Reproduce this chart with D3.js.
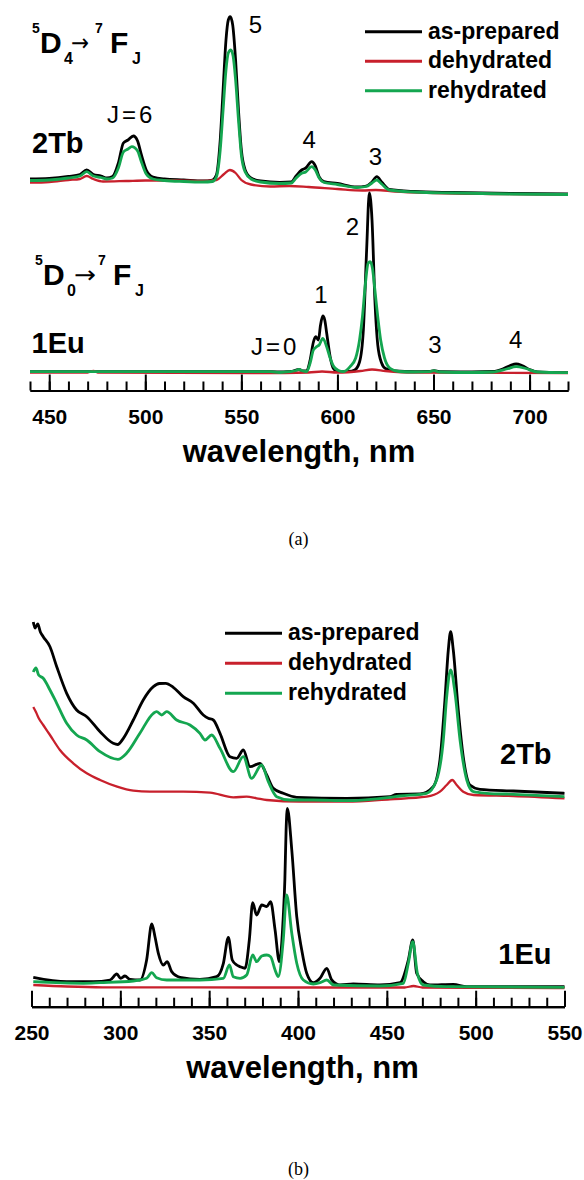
<!DOCTYPE html>
<html>
<head>
<meta charset="utf-8">
<script src="https://cdn.jsdelivr.net/npm/d3@7"></script>
<style>
  html, body { margin: 0; padding: 0; background: #fff; }
  svg { display: block; }
  text { font-family: "Liberation Sans", Arial, sans-serif; fill: #000; }
</style>
</head>
<body>
<svg id="chart" width="584" height="1180"></svg>
<script>
// ---- Series names and colours ----
const seriesNames = ["as-prepared", "dehydrated", "rehydrated"];
const seriesColors = ["#000000", "#c8202c", "#14a650"];

// ---- Axis ticks ----
const emTicksMajor = [450, 500, 550, 600, 650, 700];
const excTicksMajor = [250, 300, 350, 400, 450, 500, 550];

// Vertical offset (a.u.) used to stack the Tb spectra above the Eu spectra
const TB_OFFSET = 95;

// ---- (a) Emission spectra, [wavelength nm, intensity a.u.] ----
const emTbAsPrepared = [
  [440,10.75],[450,11.0],[460,12.0],[466,13.0],[469.5,15.25],[473,13.0],[477,12.25],[480,11.25],
  [483,12.0],[486,18.75],[488.6,28.75],[491,30.25],[493.8,32.25],[496,29.75],[498,22.75],[500.5,15.25],
  [504,11.75],[510,10.75],[520,10.25],[530,9.75],[535,10.25],[537,12.75],[539,30.25],[540.5,55.25],
  [542,80.25],[543.2,90.25],[544.2,91.9],[545.5,87.75],[547,70.25],[548.5,45.25],[550,25.25],[552,15.25],
  [555,11.25],[560,9.75],[570,9.0],[576,9.25],[578.5,12.25],[581.4,15.25],[583.5,16.25],[586.6,19.4],
  [588.5,17.25],[590.5,11.75],[593,9.4],[600,8.5],[610,6.75],[615,7.25],[618,9.25],[620.5,11.9],
  [623,9.25],[627,5.5],[640,4.5],[660,4.0],[690,3.5],[720,3.25]
];
const emTbDehydrated = [
  [440,8.9],[450,9.25],[460,10.25],[466,10.75],[469.5,12.25],[473,10.75],[478,9.5],[490,9.75],
  [500,10.0],[515,10.0],[530,9.75],[537,10.25],[541,13.25],[544,15.25],[547,13.75],[550,10.25],
  [555,8.0],[565,7.0],[575,7.25],[585,6.75],[600,5.75],[613,5.0],[620,5.25],[630,4.5],
  [650,3.75],[680,3.25],[720,3.0]
];
const emTbRehydrated = [
  [440,10.0],[450,10.25],[460,11.25],[466,12.25],[469.5,14.4],[473,12.25],[477,11.5],[480,10.75],
  [483,11.25],[486,16.25],[488.6,24.25],[491,25.75],[493,26.9],[496,24.75],[498,19.25],[500.5,13.25],
  [504,10.75],[510,10.0],[520,9.5],[530,9.25],[535,9.5],[537,11.75],[539,25.25],[540.5,45.25],
  [542,65.25],[543.2,73.75],[544.5,75.25],[545.7,72.25],[547,60.25],[548.5,40.25],[550,22.75],[552,14.25],
  [555,10.75],[560,9.25],[570,8.5],[576,8.75],[578.5,11.25],[581.4,13.6],[583.5,14.25],[586.6,16.9],
  [588.5,15.25],[590.5,11.25],[593,9.0],[600,8.0],[610,6.5],[615,7.0],[618,8.75],[620.5,10.25],
  [623,8.25],[627,5.25],[640,4.25],[660,3.75],[690,3.25],[720,3.0]
];
const emEuAsPrepared = [
  [440,9.4],[470,9.4],[520,9.4],[565,9.4],[572,9.25],[576,9.5],[578.5,10.25],[580,10.5],
  [582,9.75],[584,9.75],[585.8,15.25],[587.5,24.25],[588.7,26.9],[590.1,25.25],[591.2,32.75],[592.4,37.25],
  [593.4,35.25],[594.4,28.75],[596.2,16.9],[597.9,11.1],[600.5,9.4],[606,9.5],[609,10.25],[611.5,14.25],
  [613.5,30.25],[615.2,70.25],[616.6,98.75],[618,85.25],[619.5,45.25],[621,22.75],[623,13.75],[625,11.0],
  [630,9.75],[640,9.4],[648,9.5],[650.3,9.9],[653,9.4],[670,9.25],[681,9.5],[686,10.75],
  [690,12.5],[693,13.25],[696,12.5],[700,10.5],[704,9.25],[710,9.0],[720,8.9]
];
const emEuDehydrated = [
  [440,8.9],[470,9.0],[473,9.75],[476,8.9],[560,8.75],[585,9.0],[592,9.5],[600,9.0],
  [612,9.75],[618,10.5],[625,9.75],[640,8.9],[720,8.75]
];
const emEuRehydrated = [
  [440,9.4],[470,9.4],[520,9.4],[565,9.4],[570,9.0],[575,9.4],[578.5,10.0],[580,10.5],
  [582,9.75],[584,9.5],[585.8,13.75],[587.5,20.25],[589.2,21.9],[590.5,22.75],[592.4,26.1],[594.4,21.9],
  [596.2,16.25],[597.9,12.25],[600.5,10.0],[603,9.4],[606.6,11.9],[609.5,16.25],[611.5,25.25],[613,36.75],
  [614.5,52.75],[616,63.75],[617,64.4],[618.2,61.25],[619.5,50.25],[621,36.75],[622.5,25.25],[624.5,16.25],
  [627.4,11.1],[632,9.5],[640,9.25],[648,9.4],[650.3,9.9],[653,9.25],[670,9.0],[681,9.25],
  [688,10.75],[693,11.9],[698,11.0],[704,9.25],[720,8.9]
];

// ---- (b) Excitation spectra, [wavelength nm, intensity a.u.] ----
const excTbAsPrepared = [
  [251,97.35],[252,94.35],[253.5,96.35],[255,92.35],[256.6,90.0],[260.4,85.0],[264.2,75.0],[269.8,61.7],
  [275.4,53.35],[281.1,50.0],[288.6,42.5],[296,36.7],[298.5,36.1],[301.7,39.2],[307.3,48.35],[312.9,58.35],
  [318.6,65.0],[322,66.6],[325.5,66.7],[329.8,64.7],[335.4,60.0],[341.1,56.7],[346.7,50.85],[349.5,49.2],
  [352.3,48.35],[356.1,41.7],[361.7,30.0],[365.5,29.2],[369.2,33.35],[373,25.0],[378.6,26.7],[382.4,20.85],
  [386.1,14.2],[391.7,11.7],[399.3,9.7],[427.4,9.2],[451.8,10.0],[455.5,11.2],[468.7,11.35],[476.1,15.0],
  [479.9,28.35],[482.7,58.35],[484.6,83.35],[485.9,92.5],[487.4,83.35],[490.2,53.35],[493,30.0],[496.8,15.85],
  [502.4,13.7],[521.2,12.85],[550,11.7]
];
const excTbDehydrated = [
  [251,54.85],[252.5,52.35],[254,49.35],[256.6,45.85],[260.4,40.85],[266,33.35],[273.5,26.7],[281.1,21.7],
  [288.6,18.35],[298.2,15.0],[307.3,13.0],[316.7,12.5],[335.4,12.5],[350.5,12.0],[363.6,9.7],[371.1,10.0],
  [376.7,9.2],[382.4,8.35],[401,7.5],[427.4,7.5],[451.8,8.7],[472.4,10.0],[479.9,12.5],[483.7,15.85],
  [486.8,18.35],[489.3,15.85],[493,12.5],[498.7,10.85],[521.2,10.35],[550,9.2]
];
const excTbRehydrated = [
  [251,72.35],[252.5,74.35],[254,70.85],[256.6,69.2],[260.4,63.35],[264.2,56.7],[269.8,46.7],[275.4,40.85],
  [281.1,38.35],[288.6,32.5],[298.6,28.7],[303.5,31.7],[311,41.7],[318.6,51.7],[320.4,52.5],[323.3,50.85],
  [326.1,52.5],[331.7,48.35],[339.2,45.85],[344.8,41.7],[347.7,38.35],[351.4,40.85],[356.1,34.2],[363.6,22.5],
  [369.2,30.0],[373.9,19.2],[379.5,25.85],[383.3,17.5],[388,10.0],[395.5,8.35],[408.6,8.35],[427.4,8.0],
  [451.8,9.7],[457.4,10.35],[472.4,11.7],[478,18.35],[481.8,38.35],[483.7,60.0],[485.9,73.35],[488.4,61.7],
  [491.2,38.35],[495,18.35],[498.7,12.5],[506.2,11.7],[521.2,11.2],[550,10.0]
];
const excEuAsPrepared = [
  [251,14.7],[269.8,12.5],[284.8,12.5],[294.2,13.35],[298,16.35],[300.2,14.2],[302.6,15.35],[305.4,13.7],
  [311.1,13.35],[314.8,23.35],[317.7,41.35],[319.5,35.0],[321.4,26.7],[324.2,20.85],[326.4,22.5],[328.9,17.5],
  [333.6,14.7],[344.8,13.7],[354.2,15.0],[358,21.7],[360.8,34.7],[363,23.35],[365.5,20.85],[367.4,20.0],
  [370.2,19.2],[372.6,33.35],[374.5,52.0],[376.7,45.85],[379.6,50.85],[382.4,50.0],[384.6,52.5],[387.1,38.35],
  [389.5,22.5],[391.7,45.0],[392.6,63.35],[393.3,88.35],[394,99.2],[396.5,78.35],[399.3,45.0],[402.1,28.35],
  [404.9,16.7],[408.6,12.0],[412.4,14.2],[416.2,19.2],[419,13.35],[423.6,10.85],[431.1,11.35],[446.1,10.85],
  [457.4,12.0],[462.1,23.35],[464.6,33.35],[466.8,16.7],[470.5,12.5],[474.3,10.85],[487.4,11.2],[495,10.0],
  [550,10.0]
];
const excEuDehydrated = [
  [251,10.85],[270,10.1],[290,9.7],[400,9.6],[460,9.6],[465,10.35],[470,9.6],[550,9.35]
];
const excEuRehydrated = [
  [251,12.5],[279.2,11.7],[288.6,12.0],[307.3,12.85],[314.8,14.2],[317.7,17.0],[320.4,14.5],[326.1,13.35],
  [344.8,13.35],[358,14.2],[361.4,20.85],[363.6,15.0],[367.4,14.2],[371.1,15.85],[374.5,25.85],[376.7,22.5],
  [379.6,25.35],[382.4,25.85],[384.6,25.0],[387.1,18.35],[388.9,15.0],[391.7,33.35],[393.6,55.85],[396.5,36.7],
  [399.3,21.7],[403,13.35],[408.6,11.35],[412.4,12.0],[416.2,13.35],[420,10.85],[446.1,10.35],[459.3,11.7],
  [462.1,21.7],[464.6,32.5],[467.2,16.7],[470.5,10.85],[483.7,10.0],[550,9.7]
];

const svg = d3.select("#chart");
const FONT = '"Liberation Sans", Arial, sans-serif';

// Draws one panel: axis, minor/major ticks, spectra and legend
function drawPanel(cfg) {
  const x = d3.scaleLinear().domain(cfg.xDomain).range(cfg.xRange);
  const y = d3.scaleLinear().domain(cfg.yDomain).range(cfg.yRange);
  const g = svg.append("g");

  // spectra: draw order as-prepared, dehydrated, rehydrated
  const groups = [
    { data: cfg.tb, offset: TB_OFFSET },
    { data: cfg.eu, offset: 0 }
  ];
  const widths = [2.8, 2.3, 2.8];
  groups.forEach(grp => {
    grp.data.forEach((series, i) => {
      const line = d3.line()
        .x(d => x(d[0]))
        .y(d => y(d[1] + grp.offset))
        .curve(d3.curveMonotoneX);
      g.append("path")
        .datum(series)
        .attr("d", line)
        .attr("fill", "none")
        .attr("stroke", seriesColors[i])
        .attr("stroke-width", widths[i])
        .attr("stroke-linejoin", "round");
    });
  });

  // axis: minor ticks every 10 nm, major ticks with labels every 50 nm
  const minor = d3.range(cfg.xDomain[0], cfg.xDomain[1] + 1, 10);
  const axisY = cfg.yRange[0];
  const minorAxis = d3.axisBottom(x).tickValues(minor).tickSize(-cfg.minorLen)
    .tickSizeOuter(0).tickFormat("");
  const majorAxis = d3.axisBottom(x).tickValues(cfg.ticks).tickSize(-cfg.majorLen)
    .tickSizeOuter(0).tickFormat(d3.format("d"));
  const ga1 = g.append("g").attr("transform", `translate(0,${axisY})`).call(minorAxis);
  const ga2 = g.append("g").attr("transform", `translate(0,${axisY})`).call(majorAxis);
  [ga1, ga2].forEach(ga => {
    ga.selectAll("path.domain").attr("stroke", "#000").attr("stroke-width", 2.2);
    ga.selectAll(".tick line").attr("stroke", "#000").attr("stroke-width", 2);
  });
  ga2.selectAll(".tick text")
    .attr("y", cfg.labelOffset).attr("dy", null)
    .style("font-family", FONT).style("font-size", "21px").style("font-weight", "bold")
    .attr("fill", "#000");

  // axis title
  g.append("text")
    .attr("x", cfg.titleX).attr("y", cfg.titleY)
    .attr("text-anchor", "middle")
    .style("font-size", "31px").style("font-weight", "bold")
    .text("wavelength, nm");

  // legend
  seriesNames.forEach((name, i) => {
    const ly = cfg.legendY + i * cfg.legendStep;
    g.append("line")
      .attr("x1", cfg.legendX).attr("x2", cfg.legendX + 57)
      .attr("y1", ly).attr("y2", ly)
      .attr("stroke", seriesColors[i]).attr("stroke-width", 3);
    g.append("text")
      .attr("x", cfg.legendX + 63).attr("y", ly + 7)
      .style("font-size", "23px").style("font-weight", "bold")
      .text(name);
  });
  return g;
}

// ---- Panel (a): emission ----
const ga = drawPanel({
  xDomain: [440, 720], xRange: [30, 568],
  yDomain: [0, 190], yRange: [390.5, 10.5],
  ticks: emTicksMajor, minorLen: 9, majorLen: 16, labelOffset: 33.5,
  tb: [emTbAsPrepared, emTbDehydrated, emTbRehydrated],
  eu: [emEuAsPrepared, emEuDehydrated, emEuRehydrated],
  titleX: 299, titleY: 461.5,
  legendX: 365, legendY: 31.7, legendStep: 29.5
});

// ---- Panel (b): excitation ----
const gb = drawPanel({
  xDomain: [250, 550], xRange: [31.5, 564.5],
  yDomain: [0, 200], yRange: [1006.7, 606.7],
  ticks: excTicksMajor, minorLen: 9, majorLen: 16, labelOffset: 33.5,
  tb: [excTbAsPrepared, excTbDehydrated, excTbRehydrated],
  eu: [excEuAsPrepared, excEuDehydrated, excEuRehydrated],
  titleX: 302.5, titleY: 1078,
  legendX: 225, legendY: 633.3, legendStep: 30
});

// ---- Text annotations ----
function label(g, txt, xx, yy, size, weight, anchor, extra) {
  const t = g.append("text")
    .attr("x", xx).attr("y", yy)
    .attr("text-anchor", anchor || "start")
    .style("font-size", size + "px")
    .style("font-weight", weight || "normal")
    .text(txt);
  if (extra) extra(t);
  return t;
}

// term symbol  ^5D_n -> ^7F_J
function transition(g, sub, x0, base, arrowW) {
  label(g, "5", x0, base - 20, 14, "bold");
  label(g, "D", x0 + 8, base, 30, "bold");
  label(g, sub, x0 + 32, base + 11, 16, "bold");
  label(g, "\u2192", x0 + 39, base - 2.5, 24, "normal", "start",
    t => t.style("font-family", '"DejaVu Sans", sans-serif')
          .attr("textLength", arrowW).attr("lengthAdjust", "spacingAndGlyphs"));
  label(g, "7", x0 + 63, base - 20, 14, "bold");
  label(g, "F", x0 + 78, base, 30, "bold");
  label(g, "J", x0 + 100, base + 11, 16, "bold");
}
transition(ga, "4", 32, 53.3, 18);
transition(ga, "0", 35, 285, 22);

const spaced = t => t.style("letter-spacing", "3px");
label(ga, "2Tb", 32, 153.3, 29, "bold");
label(ga, "1Eu", 31.5, 352.7, 29, "bold");
label(ga, "J=6", 107, 123.3, 24, "normal", "start", spaced);
label(ga, "5", 255.5, 33.3, 24, "normal", "middle");
label(ga, "4", 309.2, 148.3, 24, "normal", "middle");
label(ga, "3", 375.5, 165, 24, "normal", "middle");
label(ga, "J=0", 251, 355, 24, "normal", "start", spaced);
label(ga, "1", 321, 303.3, 24, "normal", "middle");
label(ga, "2", 352.5, 235, 24, "normal", "middle");
label(ga, "3", 435, 353.3, 24, "normal", "middle");
label(ga, "4", 515.8, 348.3, 24, "normal", "middle");

label(gb, "2Tb", 500, 764, 29, "bold");
label(gb, "1Eu", 498.3, 964.3, 29, "bold");

// panel captions
label(svg, "(a)", 298.5, 544.7, 18, "normal", "middle",
  t => t.style("font-family", '"Liberation Serif", "Times New Roman", serif'));
label(svg, "(b)", 298.5, 1174.5, 18, "normal", "middle",
  t => t.style("font-family", '"Liberation Serif", "Times New Roman", serif'));
</script>
</body>
</html>
